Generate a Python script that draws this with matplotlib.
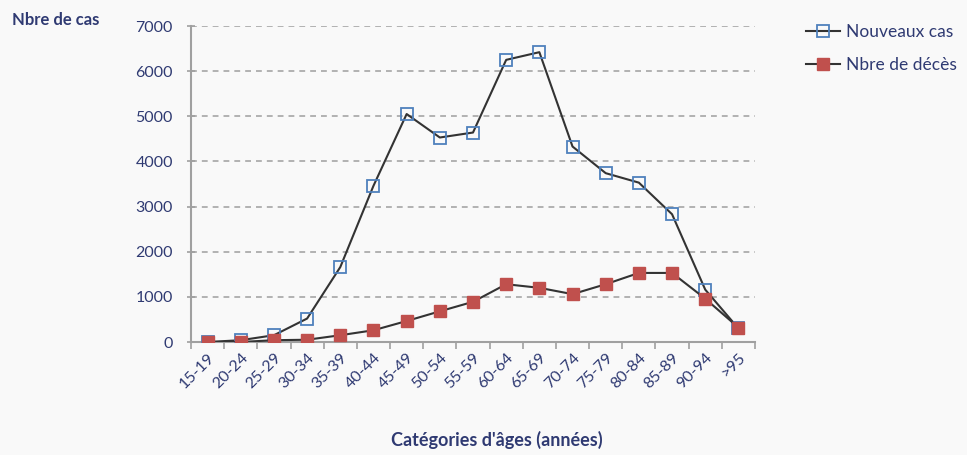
import matplotlib
matplotlib.use('Agg')
import matplotlib.pyplot as plt
import numpy as np

# Age categories and counts
categories = ['15-19', '20-24', '25-29', '30-34', '35-39', '40-44', '45-49',
              '50-54', '55-59', '60-64', '65-69', '70-74', '75-79', '80-84',
              '85-89', '90-94', '>95']
nouveaux_cas = [0, 40, 150, 520, 1660, 3460, 5050, 4530, 4640, 6250, 6420,
                4330, 3740, 3530, 2830, 1160, 300]
deces = [0, 0, 40, 50, 150, 260, 465, 680, 890, 1280, 1200, 1060, 1280,
         1530, 1530, 960, 320]
y_ticks = [0, 1000, 2000, 3000, 4000, 5000, 6000, 7000]

navy = '#2f3a72'
plt.rcParams['font.family'] = ['Lato', 'DejaVu Sans']

fig = plt.figure(figsize=(9.67, 4.55), dpi=100, facecolor='#f9f9f9')
ax = fig.add_axes([191/967, 1-342/455, (755-191)/967, (342-26)/455])
ax.set_facecolor('#f9f9f9')

x = np.arange(len(categories))
ax.plot(x, nouveaux_cas, color='#333333', lw=1.5, marker='s', ms=9,
        mfc='none', mec='#4f81bd', mew=1.3, label='Nouveaux cas', zorder=3)
ax.plot(x, deces, color='#333333', lw=1.5, marker='s', ms=9,
        mfc='#c0504d', mec='#c0504d', label='Nbre de décès', zorder=4)

ax.set_xlim(-0.5, len(categories) - 0.5)
ax.set_ylim(0, 7000)
ax.set_yticks(y_ticks)
ax.set_yticklabels([str(v) for v in y_ticks], color=navy, fontsize=11.5)
ax.yaxis.grid(True, color='#a6a6a6', ls=(0, (3.5, 3)), lw=1.2)
ax.set_axisbelow(True)

ax.set_xticks(np.arange(-0.5, len(categories), 1.0))
ax.set_xticklabels([])
ax.set_xticks(x, minor=True)
ax.set_xticklabels(categories, minor=True, rotation=45, ha='right',
                   rotation_mode='anchor', color=navy, fontsize=11.5)
ax.tick_params(axis='x', which='minor', length=0, pad=6)
ax.tick_params(axis='x', which='major', length=5, color='#a0a0a0', width=1.2)
ax.tick_params(axis='y', length=6, direction='inout', color='#a0a0a0', width=1.2, pad=10)

for s in ['top', 'right']:
    ax.spines[s].set_visible(False)
for s in ['left', 'bottom']:
    ax.spines[s].set_color('#a0a0a0')
    ax.spines[s].set_linewidth(1.5)

fig.text(12/967, 1-20/455, 'Nbre de cas', color=navy, fontsize=12,
         fontweight='bold', va='center', ha='left')
fig.text(497/967, 1-440/455, "Catégories d'âges (années)", color=navy,
         fontsize=13, fontweight='bold', va='center', ha='center')

leg = fig.legend(loc='upper left', bbox_to_anchor=(790/967, 1-8/455),
                 frameon=False, fontsize=12.5, handlelength=2.0,
                 labelspacing=1.0, handletextpad=0.3, labelcolor=navy)

fig.savefig('out.png', dpi=100, facecolor=fig.get_facecolor())
